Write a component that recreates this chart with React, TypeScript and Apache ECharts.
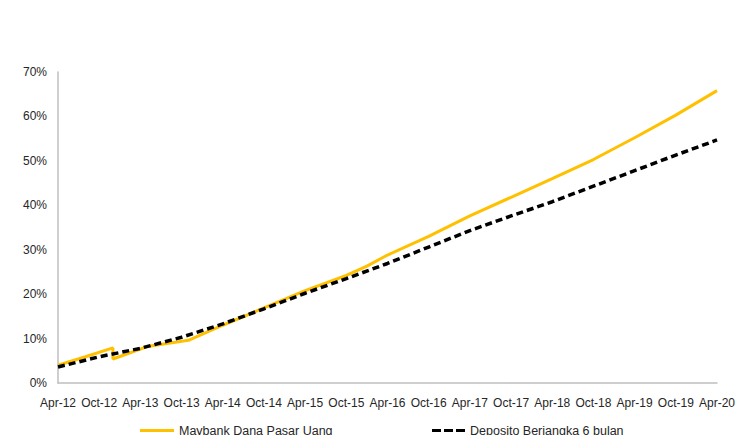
import React, { useEffect, useRef } from "react";
import * as echarts from "echarts";

// Month offsets from Apr-12
const xTickLabels = [
  "Apr-12", "Oct-12", "Apr-13", "Oct-13", "Apr-14", "Oct-14", "Apr-15", "Oct-15",
  "Apr-16", "Oct-16", "Apr-17", "Oct-17", "Apr-18", "Oct-18", "Apr-19", "Oct-19", "Apr-20",
];

const fundMonths = [0, 4, 8, 8, 13, 19, 24, 30, 36, 42, 45, 48, 54, 60, 66, 72, 78, 84, 90, 96];
const fundValues = [4.0, 5.9, 7.9, 5.4, 8.2, 9.6, 13.0, 16.9, 20.8, 24.2, 26.3, 28.8, 33.0, 37.6, 41.8, 46.0, 50.3, 55.2, 60.3, 65.8];

const depoMonths = [0, 6, 12, 18, 24, 30, 36, 42, 48, 54, 60, 66, 72, 78, 84, 90, 96];
const depoValues = [3.6, 5.9, 7.8, 10.3, 13.3, 16.7, 20.2, 23.5, 26.9, 30.6, 34.3, 37.6, 40.8, 44.3, 47.8, 51.3, 54.7];

const seriesNames = ["Maybank Dana Pasar Uang", "Deposito Berjangka 6 bulan"];

const FONT = "'Liberation Sans', Arial, sans-serif";

export default function App() {
  const ref = useRef<HTMLDivElement>(null);
  useEffect(() => {
    if (!ref.current) return;
    const chart = echarts.init(ref.current, undefined, { renderer: "svg" });
    const legendText = { color: "#262626", fontSize: 12.5, fontFamily: FONT };
    chart.setOption({
      animation: false,
      backgroundColor: "#ffffff",
      textStyle: { fontFamily: FONT },
      grid: { left: 58, right: 27, top: 72, bottom: 60, containLabel: false },
      xAxis: {
        type: "value",
        min: 0,
        max: 96,
        interval: 6,
        axisLine: { show: true, lineStyle: { color: "#bfbfbf", width: 1.5 } },
        axisTick: { show: false },
        splitLine: { show: false },
        axisLabel: {
          color: "#262626",
          fontSize: 12,
          fontFamily: FONT,
          margin: 14,
          formatter: (v: number) => xTickLabels[Math.round(v / 6)] ?? "",
        },
      },
      yAxis: {
        type: "value",
        min: 0,
        max: 70,
        interval: 10,
        axisLine: { show: true, lineStyle: { color: "#bfbfbf", width: 1.5 } },
        axisTick: { show: false },
        splitLine: { show: false },
        axisLabel: {
          color: "#262626",
          fontSize: 12,
          fontFamily: FONT,
          margin: 11,
          formatter: (v: number) => v + "%",
        },
      },
      legend: [
        {
          data: [{ name: seriesNames[0], icon: "rect", itemStyle: { color: "#FFC000" } }],
          left: 140,
          top: 424,
          padding: 0,
          itemWidth: 34,
          itemHeight: 3,
          textStyle: legendText,
        },
        {
          data: [
            {
              name: seriesNames[1],
              icon: "path://M0,0h9v3h-9z M12,0h9v3h-9z M24,0h9v3h-9z",
              itemStyle: { color: "#000000" },
            },
          ],
          left: 432,
          top: 424,
          padding: 0,
          itemWidth: 33,
          itemHeight: 4,
          textStyle: legendText,
        },
      ],
      series: [
        {
          name: seriesNames[0],
          type: "line",
          symbol: "none",
          data: fundMonths.map((m, i) => [m, fundValues[i]]),
          lineStyle: { color: "#FFC000", width: 3 },
          itemStyle: { color: "#FFC000" },
          z: 2,
        },
        {
          name: seriesNames[1],
          type: "line",
          symbol: "none",
          data: depoMonths.map((m, i) => [m, depoValues[i]]),
          lineStyle: { color: "#000000", width: 3.5, type: [7, 4] },
          itemStyle: { color: "#000000" },
          z: 3,
        },
      ],
    });
    return () => chart.dispose();
  }, []);
  return <div ref={ref} style={{ width: 744, height: 443, margin: -8 }} />;
}
